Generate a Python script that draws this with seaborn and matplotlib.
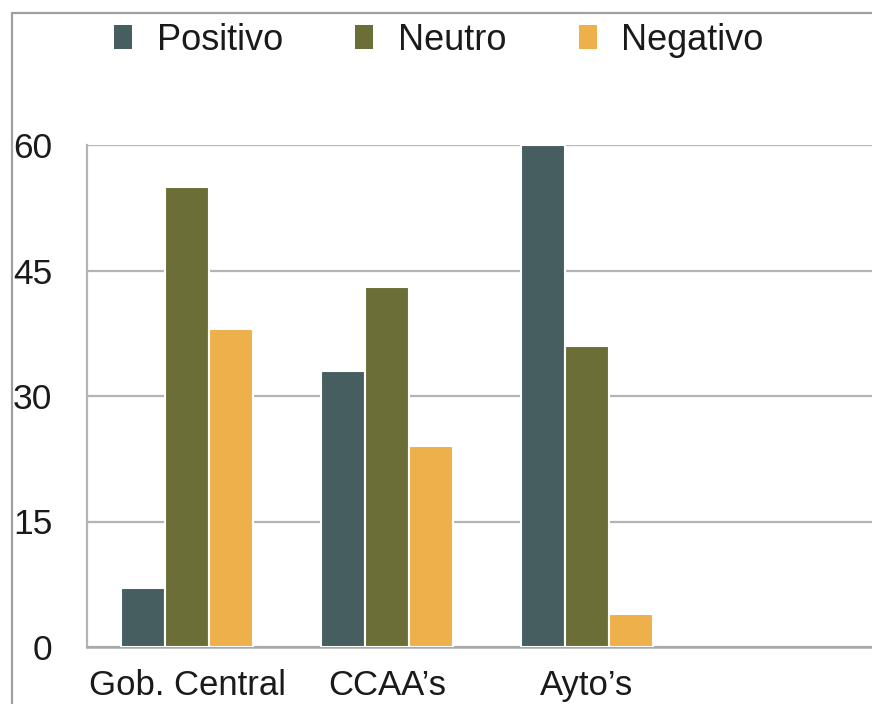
import matplotlib
matplotlib.use("Agg")
import matplotlib.pyplot as plt
from matplotlib.lines import Line2D
from matplotlib.patches import Patch
import seaborn as sns
import pandas as pd

# Data
categories = ["Gob. Central", "CCAA\u2019s", "Ayto\u2019s"]
series = ["Positivo", "Neutro", "Negativo"]
positivo = [7, 33, 60]
neutro = [55, 43, 36]
negativo = [38, 24, 4]
yticks = [0, 15, 30, 45, 60]

colors = ["#465E5F", "#6B6F37", "#EEB04B"]
grid_gray = "#b4b4b4"

df = pd.DataFrame({
    "cat": categories * 3,
    "serie": [s for s in series for _ in categories],
    "val": positivo + neutro + negativo,
})

sns.set_theme(style="white")
plt.rcParams["font.family"] = ["Liberation Sans", "DejaVu Sans"]

W, H = 872, 704
fig = plt.figure(figsize=(W / 100, H / 100), dpi=100)
left_px, right_px, top_px, bottom_px = 87, 872, 145, 647
ax = fig.add_axes([left_px / W, (H - bottom_px) / H,
                   (right_px - left_px) / W, (bottom_px - top_px) / H])

sns.barplot(data=df, x="cat", y="val", hue="serie", order=categories,
            hue_order=series, palette=colors, saturation=1, width=0.66,
            edgecolor="white", linewidth=1.5, ax=ax, legend=False, zorder=3)

ax.set_ylim(0, 60)
ax.set_xlim(-0.5, -0.5 + (right_px - left_px) / 200)
ax.set_yticks(yticks)
ax.set_yticklabels([str(v) for v in yticks])
ax.yaxis.grid(True, color=grid_gray, linewidth=1.6, zorder=0)
ax.set_axisbelow(True)
ax.set_xlabel("")
ax.set_ylabel("")

ax.set_xticks(range(len(categories)))
ax.set_xticklabels(categories)
ax.set_xticks([-0.5, 0.5, 1.5, 2.5], minor=True)
ax.tick_params(axis="x", which="major", length=0, pad=15.5, labelsize=25,
               labelcolor="#1a1a1a")
ax.tick_params(axis="x", which="minor", length=5, width=1.4,
               color=grid_gray, direction="out")
ax.tick_params(axis="y", length=5, width=1.4, color=grid_gray,
               direction="out", pad=20, labelsize=25.5, labelcolor="#1a1a1a")

for side in ["top", "right"]:
    ax.spines[side].set_visible(False)
ax.spines["left"].set_color(grid_gray)
ax.spines["left"].set_linewidth(1.6)
ax.spines["bottom"].set_color("#a8a8a8")
ax.spines["bottom"].set_linewidth(1.8)

# Outer frame (top and left edges)
fig.add_artist(Line2D([12 / W, 1.0], [1 - 13 / H, 1 - 13 / H],
                      transform=fig.transFigure, color="#a0a0a0", linewidth=1.6))
fig.add_artist(Line2D([12 / W, 12 / W], [0, 1 - 13 / H],
                      transform=fig.transFigure, color="#a0a0a0", linewidth=1.6))

handles = [Patch(facecolor=c, edgecolor="none", label=s)
           for c, s in zip(colors, series)]
fig.legend(handles=handles, loc="center", ncol=3, frameon=False,
           bbox_to_anchor=(439 / W, 1 - 40 / H), fontsize=26,
           handlelength=0.5, handleheight=0.65, handletextpad=0.68,
           columnspacing=2.0, labelcolor="#1a1a1a")

fig.savefig("out.png", dpi=100)
